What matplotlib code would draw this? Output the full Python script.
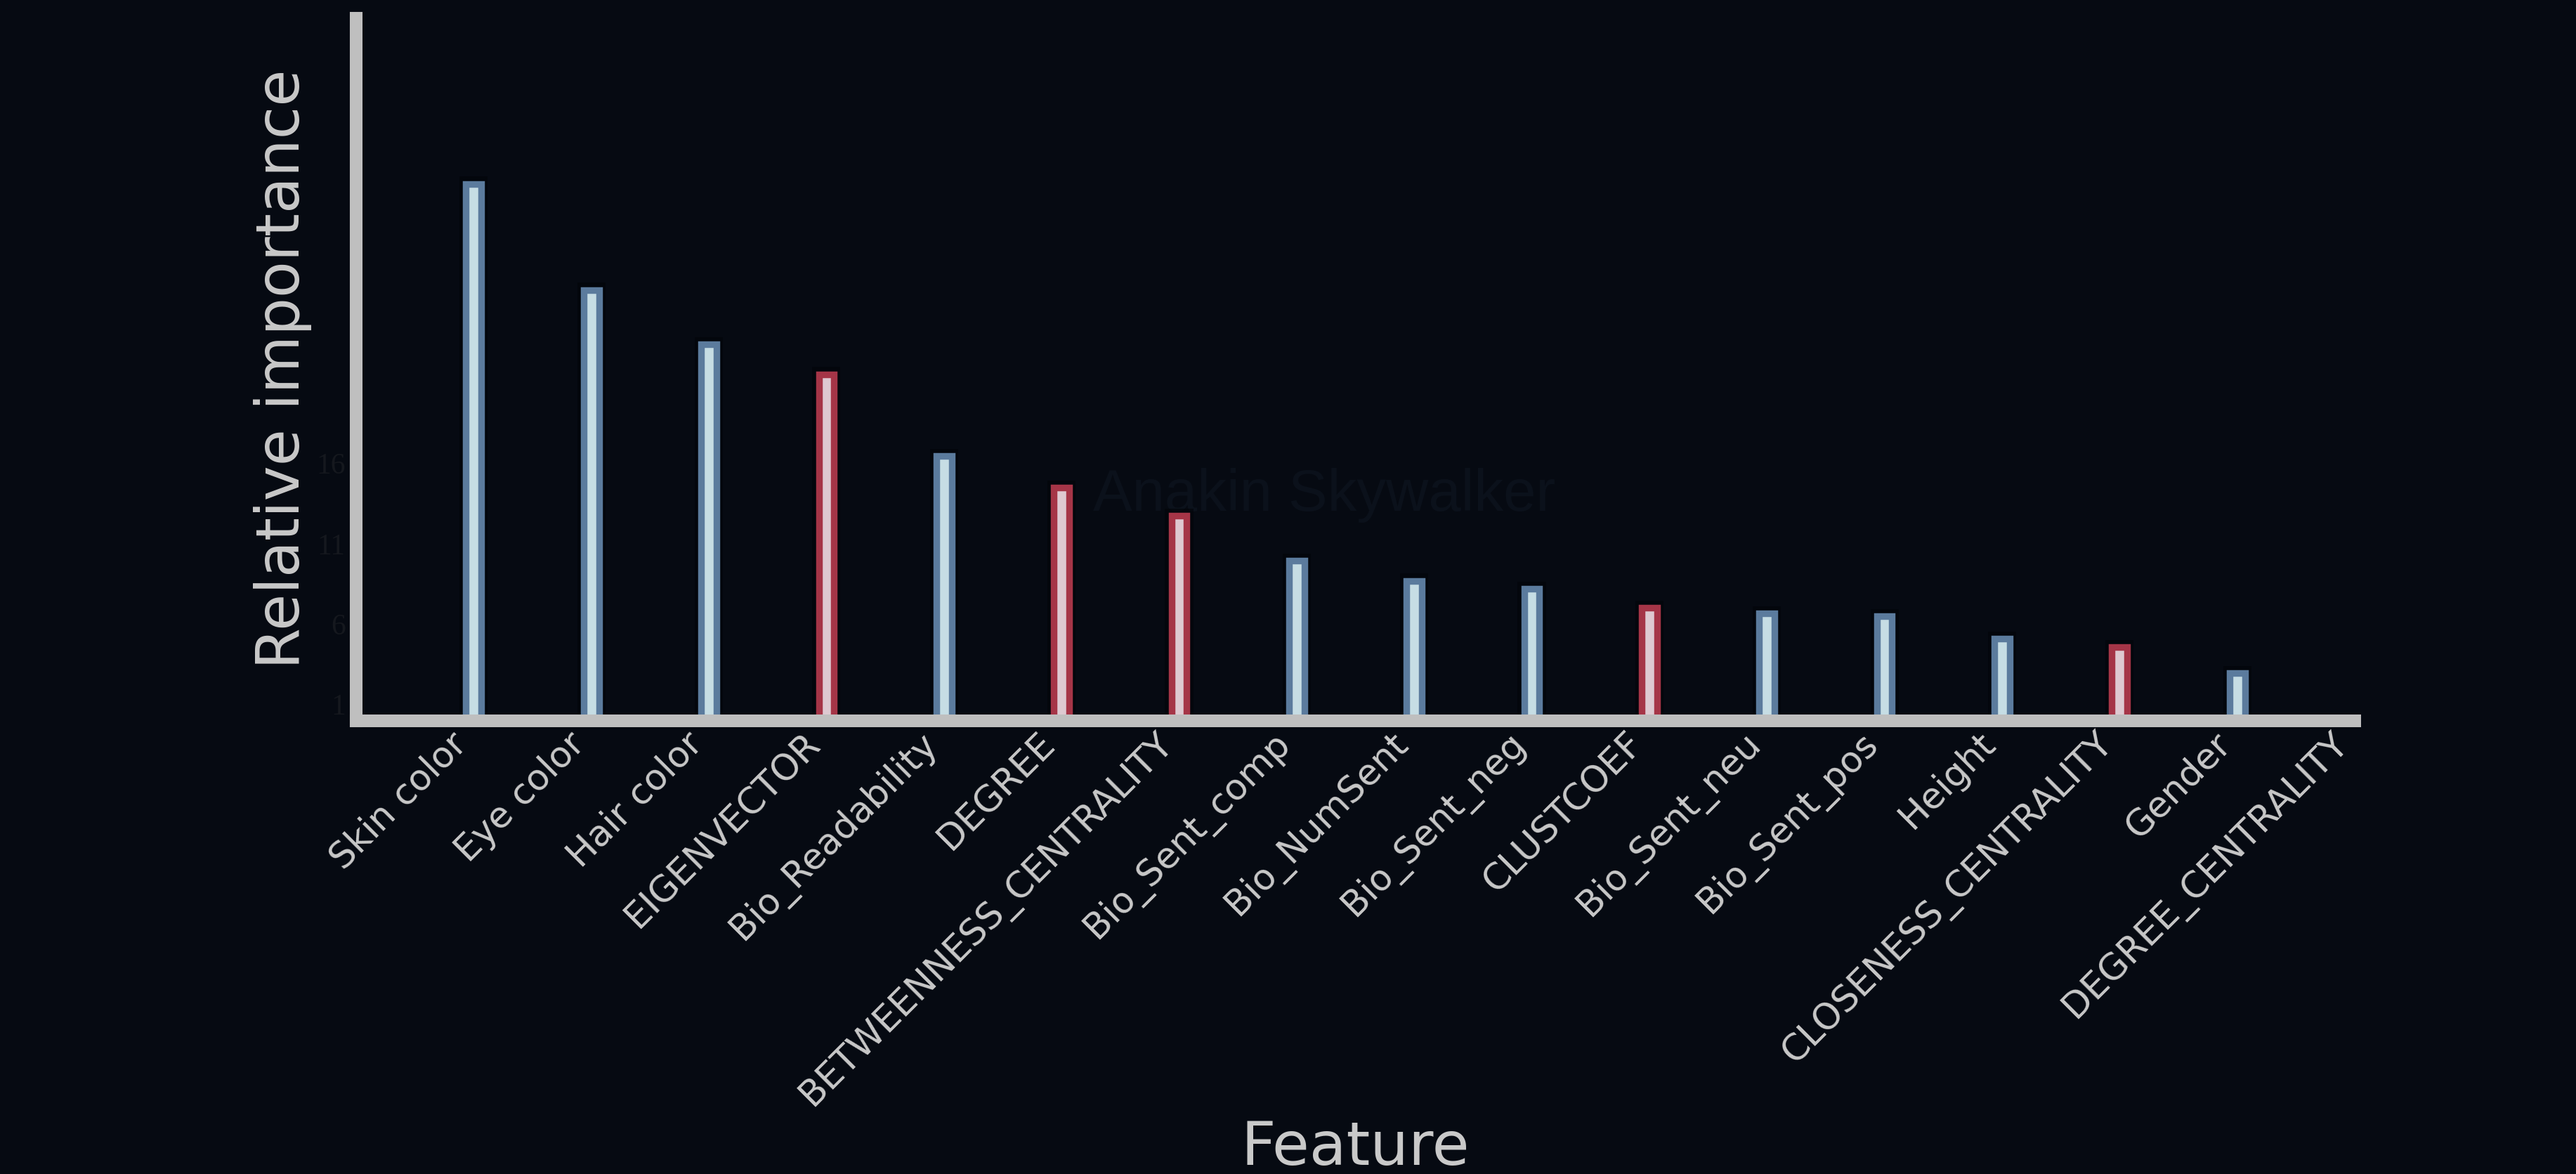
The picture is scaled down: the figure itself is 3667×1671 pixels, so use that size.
import numpy as np
import matplotlib
matplotlib.use('Agg')
import matplotlib.pyplot as plt
from matplotlib.transforms import ScaledTranslation

# Datos (importancia relativa de cada feature)
features = ['Skin color', 'Eye color', 'Hair color', 'EIGENVECTOR', 'Bio_Readability',
            'DEGREE', 'BETWEENNESS_CENTRALITY', 'Bio_Sent_comp', 'Bio_NumSent',
            'Bio_Sent_neg', 'CLUSTCOEF', 'Bio_Sent_neu', 'Bio_Sent_pos', 'Height',
            'CLOSENESS_CENTRALITY', 'Gender', 'DEGREE_CENTRALITY']
importance = [33.4, 26.8, 23.4, 21.55, 16.45, 14.5, 12.75, 9.95, 8.7,
              8.2, 7.0, 6.65, 6.5, 5.1, 4.55, 2.95, 0.0]
# tipo de feature: personaje (bio) o red (network)
kind = ['bio', 'bio', 'bio', 'net', 'bio', 'net', 'net', 'bio', 'bio',
        'bio', 'net', 'bio', 'bio', 'bio', 'net', 'bio', 'net']
yticks = [1, 6, 11, 16]

bg = '#060a12'
edge_col = {'bio': '#5b7b9d', 'net': '#a53547'}
face_col = {'bio': '#c6dde4', 'net': '#dec9d1'}

fig = plt.figure(figsize=(36.67, 16.71), dpi=100, facecolor=bg)
W, H = 3667, 1671
ax = fig.add_axes([507 / W, 1 - 1025.5 / H, (3352 - 507) / W, (1025.5 - 26) / H])
ax.set_facecolor('none')

# texto tenue del fondo (imagen de la red de personajes)
fig.text(0.514, 0.578, 'Anakin Skywalker', fontsize=60, color='#0b111b',
         family='Liberation Sans', ha='center', va='center', zorder=-1)

x = np.arange(len(features))
vals = np.array(importance)

# sombra oscura detrás de las barras
ax.bar(x, np.where(vals > 0, vals + 0.45, 0), width=0.24, color='#020408',
       alpha=0.6, linewidth=0, zorder=1)
ax.bar(x, vals, width=0.13,
       color=[face_col[k] for k in kind],
       edgecolor=[edge_col[k] for k in kind],
       linewidth=6.8, zorder=2)

ax.set_xlim(-1, 16)
ax.set_ylim(0, 43.7)

for s in ['top', 'right']:
    ax.spines[s].set_visible(False)
for s in ['left', 'bottom']:
    ax.spines[s].set_color('#bfbfbf')
    ax.spines[s].set_linewidth(13)
    ax.spines[s].set_capstyle('projecting')
    ax.spines[s].set_zorder(3)

# etiquetas del eje x rotadas, desplazadas un poco a la izquierda
ax.set_xticks(x)
ax.set_xticklabels([])
lbl_trans = ax.get_xaxis_transform() + ScaledTranslation(-0.17, -0.26, fig.dpi_scale_trans)
for xi, name in zip(x, features):
    ax.text(xi, 0, name, transform=lbl_trans, rotation=45, ha='right', va='center',
            rotation_mode='anchor', fontsize=37, color='#c9c9c9', clip_on=False)

ax.set_yticks(yticks)
ax.set_yticklabels([str(t) for t in yticks], fontsize=30, color='#15181e',
                   family='Liberation Serif')
ax.tick_params(axis='both', length=0)
ax.tick_params(axis='y', pad=11)

ax.set_xlabel('Feature', fontsize=62, color='#c9c9c9')
ax.xaxis.set_label_coords(0.5, -0.568)
ax.set_ylabel('Relative importance', fontsize=61, color='#c9c9c9')
ax.yaxis.set_label_coords(-0.022, 0.5)

fig.savefig('out.png', dpi=100, facecolor=bg)
